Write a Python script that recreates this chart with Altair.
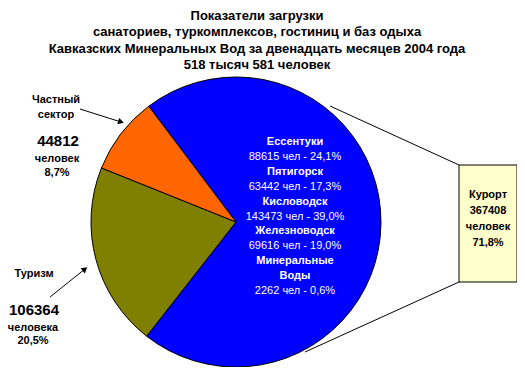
import math
import altair as alt
import pandas as pd

# ---- data ----
categories = ["Курорт", "Туризм", "Частный сектор"]
values = [367408, 106364, 44812]
colors = ["#0000FF", "#808000", "#FF6600"]

title_lines = [
    "Показатели загрузки",
    "санаториев, туркомплексов, гостиниц и баз одыха",
    "Кавказских Минеральных Вод за двенадцать месяцев 2004 года",
    "518 тысяч 581 человек",
]
resort_lines = [
    ("Ессентуки", True), ("88615 чел - 24,1%", False),
    ("Пятигорск", True), ("63442 чел - 17,3%", False),
    ("Кисловодск", True), ("143473 чел -  39,0%", False),
    ("Железноводск", True), ("69616 чел - 19,0%", False),
    ("Минеральные", True), ("Воды", True), ("2262 чел - 0,6%", False),
]
box_lines = ["Курорт", "367408", "человек", "71,8%"]
private_lines = ["Частный", "сектор"]
private_num = "44812"
private_sub = ["человек", "8,7%"]
tour_label = "Туризм"
tour_num = "106364"
tour_sub = ["человека", "20,5%"]

FONT = "Liberation Sans"
W, H = 509, 351
OX, OY = 8, 16  # image coords -> plot coords (page margin + top padding)

df = pd.DataFrame({"cat": categories, "val": values, "ord": [0, 1, 2]})
start = math.radians(-37)

base = alt.Chart(df)
pie = base.mark_arc(radius=145, stroke="black", strokeWidth=1).encode(
    theta=alt.Theta("val:Q", stack=True, scale=alt.Scale(range=[start, start + 2 * math.pi])),
    color=alt.Color("cat:N", scale=alt.Scale(domain=categories, range=colors), legend=None),
    order=alt.Order("ord:Q"),
    x=alt.value(236 - OX),
    y=alt.value(222 - OY),
)

one = alt.Chart(pd.DataFrame({"a": [0]}))

def txt(s, x, y, size=11, bold=True, color="black"):
    return one.mark_text(
        text=s, font=FONT, fontSize=size, fontWeight="bold" if bold else "normal",
        color=color, align="center", baseline="middle",
    ).encode(x=alt.value(x - OX), y=alt.value(y - OY))

def line(x1, y1, x2, y2):
    return one.mark_rule(color="black", strokeWidth=1).encode(
        x=alt.value(x1 - OX), y=alt.value(y1 - OY),
        x2=alt.value(x2 - OX), y2=alt.value(y2 - OY))

def arrowhead(x, y, ang):
    return one.mark_point(shape="triangle-up", filled=True, color="black", size=45,
                          angle=ang, opacity=1).encode(x=alt.value(x - OX), y=alt.value(y - OY))

layers = [pie]

# connector lines and box
layers.append(line(459, 165, 330, 106))
layers.append(line(459, 282, 305, 352))
layers.append(one.mark_rect(fill="#FFFFCC", stroke="black", strokeWidth=1).encode(
    x=alt.value(459 - OX), x2=alt.value(517 - OX), y=alt.value(165 - OY), y2=alt.value(282 - OY)))
for i, s in enumerate(box_lines):
    layers.append(txt(s, 488, 195 + 16 * i, size=11))

# title
for i, s in enumerate(title_lines):
    layers.append(txt(s, 257, 16 + 16.3 * i, size=13))

# resort labels inside blue
for i, (s, b) in enumerate(resort_lines):
    layers.append(txt(s, 295, 142 + 14.9 * i, size=11, bold=b, color="white"))

# private sector
layers.append(txt(private_lines[0], 56, 100, size=11))
layers.append(txt(private_lines[1], 56, 115, size=11))
layers.append(txt(private_num, 58, 141, size=15, bold=True))
layers.append(txt(private_sub[0], 57, 159, size=11))
layers.append(txt(private_sub[1], 57, 173, size=11))
layers.append(line(80, 109, 121, 122))
layers.append(arrowhead(121, 122, 107))

# tourism
layers.append(txt(tour_label, 34, 274, size=11))
layers.append(txt(tour_num, 34, 310, size=15, bold=True))
layers.append(txt(tour_sub[0], 33, 328, size=11))
layers.append(txt(tour_sub[1], 33, 341, size=11))
layers.append(line(50, 297, 85, 269))
layers.append(arrowhead(85, 269, 52))

chart = alt.layer(*layers).properties(
    width=W, height=H, padding={"left": 0, "right": 0, "top": 8, "bottom": 0},
    autosize=alt.AutoSizeParams(type="none")
).configure_view(stroke=None)

chart.save("out.html", embed_options={"renderer": "svg", "actions": False})
